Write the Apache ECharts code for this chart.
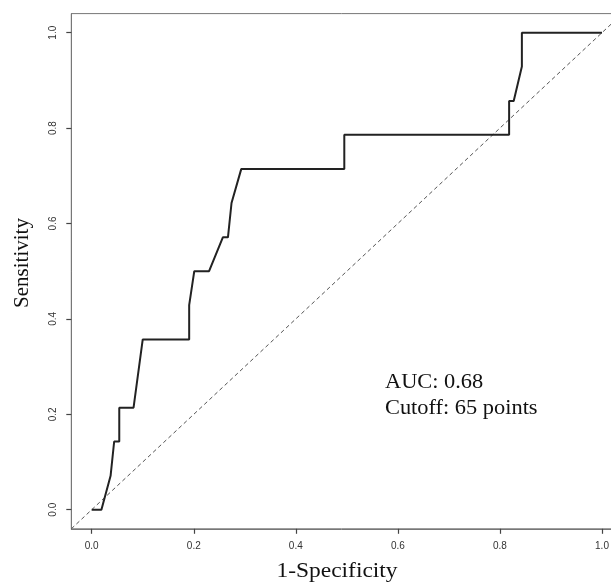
<!DOCTYPE html>
<html>
<head>
<meta charset="utf-8">
<script src="https://cdn.jsdelivr.net/npm/echarts@6/dist/echarts.min.js"></script>
<style>html,body{margin:0;padding:0;background:#fff;}#c{width:611px;height:582px;}</style>
</head>
<body>
<div id="c"></div>
<script>
// ROC curve points (1-Specificity, Sensitivity)
var fpr = [0, 0.019, 0.037, 0.044, 0.054, 0.054, 0.082, 0.100, 0.191, 0.191, 0.201, 0.230, 0.257, 0.267, 0.274, 0.293, 0.495, 0.495, 0.818, 0.818, 0.827, 0.843, 0.843, 1.0];
var tpr = [0, 0, 0.071, 0.143, 0.143, 0.214, 0.214, 0.357, 0.357, 0.429, 0.5, 0.5, 0.571, 0.571, 0.643, 0.714, 0.714, 0.786, 0.786, 0.857, 0.857, 0.929, 1.0, 1.0];
var refLine = [[-0.04, -0.04], [1.04, 1.04]];
var tickValues = [0, 0.2, 0.4, 0.6, 0.8, 1.0];
var tickLabels = ['0.0', '0.2', '0.4', '0.6', '0.8', '1.0'];
var xTitle = '1-Specificity';
var yTitle = 'Sensitivity';
var annot = ['AUC: 0.68', 'Cutoff: 65 points'];

var rocData = fpr.map(function (x, i) { return [x, tpr[i]]; });
function fmt(v) { var i = tickValues.indexOf(Math.round(v * 10) / 10); return i >= 0 ? tickLabels[i] : ''; }

var chart = echarts.init(document.getElementById('c'), null, { renderer: 'canvas' });
function axisCommon(extraLabel) {
  return {
    type: 'value', min: -0.04, max: 1.04,
    axisLine: { show: true, onZero: false, lineStyle: { color: '#777', width: 1 } },
    splitLine: { show: false },
    axisTick: { show: true, inside: false, customValues: tickValues, length: 5, lineStyle: { color: '#444', width: 1.2 } },
    axisLabel: Object.assign({ customValues: tickValues, formatter: fmt, fontFamily: 'Liberation Sans', fontSize: 10, color: '#333' }, extraLabel)
  };
}
var SX = 1.066;
chart.setOption({
  animation: false,
  backgroundColor: '#fff',
  grid: { left: 71.3, top: 13.6, right: -11.4, bottom: 53.2, outerBoundsMode: 'none', show: true, borderColor: '#777', borderWidth: 1, containLabel: false },
  xAxis: axisCommon({ margin: 12 }),
  yAxis: axisCommon({ margin: 13, rotate: 90 }),
  series: [
    { type: 'line', data: refLine, symbol: 'none', silent: true, clip: false,
      lineStyle: { color: '#555', width: 1, type: [4, 3] } },
    { type: 'line', data: rocData, symbol: 'none',
      lineStyle: { color: '#222', width: 2 } }
  ],
  graphic: [
    { type: 'text', x: 337, y: 571, scaleX: SX, style: { text: xTitle, font: '22px "Liberation Serif"', fill: '#111', align: 'center', verticalAlign: 'middle' } },
    { type: 'text', x: 22, y: 263, rotation: Math.PI / 2, style: { text: yTitle, font: '21px "Liberation Serif"', fill: '#111', align: 'center', verticalAlign: 'middle' } },
    { type: 'text', x: 385, y: 382, scaleX: SX, style: { text: annot[0], font: '21px "Liberation Serif"', fill: '#111', align: 'left', verticalAlign: 'middle' } },
    { type: 'text', x: 385, y: 408, scaleX: SX, style: { text: annot[1], font: '21px "Liberation Serif"', fill: '#111', align: 'left', verticalAlign: 'middle' } }
  ]
});
</script>
</body>
</html>
